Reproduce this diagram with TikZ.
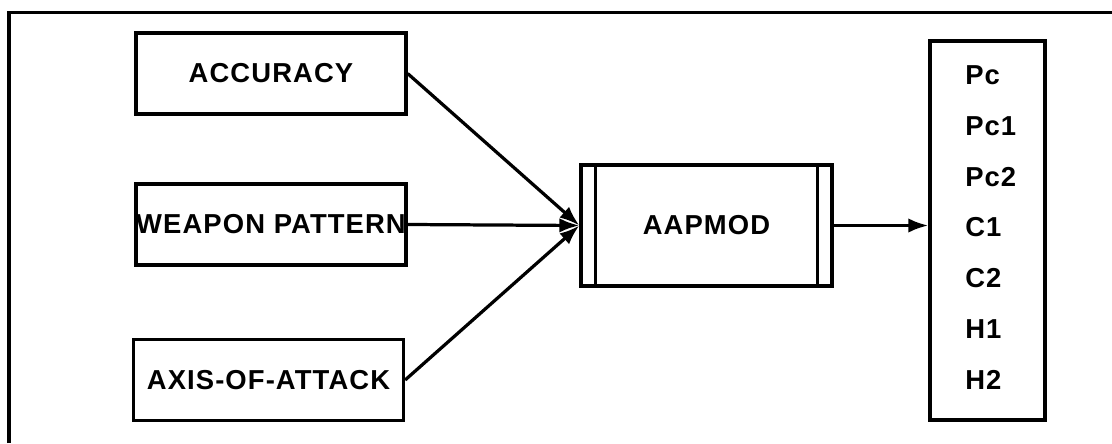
\documentclass[tikz,border=0pt]{standalone}
\usepackage{fontspec}
\setmainfont{Liberation Sans}[LetterSpace=4]
\usetikzlibrary{arrows.meta}
\tikzset{
  inbox/.style={draw, line width=2.3pt, minimum width=6.75cm, minimum height=2.03cm, inner sep=0pt,
    font=\bfseries\fontsize{19.5}{22}\selectfont},
  flow/.style={line width=2.3pt, -{Latex[length=0.5cm,width=0.36cm]}},
  outlabel/.style={anchor=west, inner sep=0pt, font=\bfseries\fontsize{19.5}{22}\selectfont}
}
\begin{document}
\begin{tikzpicture}

\useasboundingbox (0,0) rectangle (27.8,11.075);

\draw[line width=2.3pt] (0.225,0) -- (0.225,10.76) -- (27.8,10.76);

\node[inbox] (acc) at (6.775,9.2375) {ACCURACY};
\node[inbox] (wpn) at (6.775,5.4625) {WEAPON PATTERN};
\node[inbox] (axis) at (6.7125,1.575) {AXIS-OF-ATTACK};

\node[inbox, minimum width=6.275cm, minimum height=3.025cm] (aap) at (17.6625,5.4375) {AAPMOD};
\draw[line width=2.3pt] ([xshift=0.41cm]aap.north west) -- ([xshift=0.41cm]aap.south west);
\draw[line width=2.3pt] ([xshift=-0.41cm]aap.north east) -- ([xshift=-0.41cm]aap.south east);

\node[draw, line width=2.3pt, minimum width=2.875cm, minimum height=9.475cm] (out) at (24.6875,5.3125) {};
\foreach \lbl [count=\i from 0] in {Pc,Pc1,Pc2,C1,C2,H1,H2} {
    \node[outlabel] (o\i) at (24.125,9.2-1.27*\i) {\lbl};
}

\draw[flow] (acc.east) -- (aap.west);
\draw[flow] (wpn.east) -- (aap.west);
\draw[flow] (axis.east) -- (aap.west);
\draw[flow] (aap.east) -- (aap.east -| out.west);

\end{tikzpicture}
\end{document}
